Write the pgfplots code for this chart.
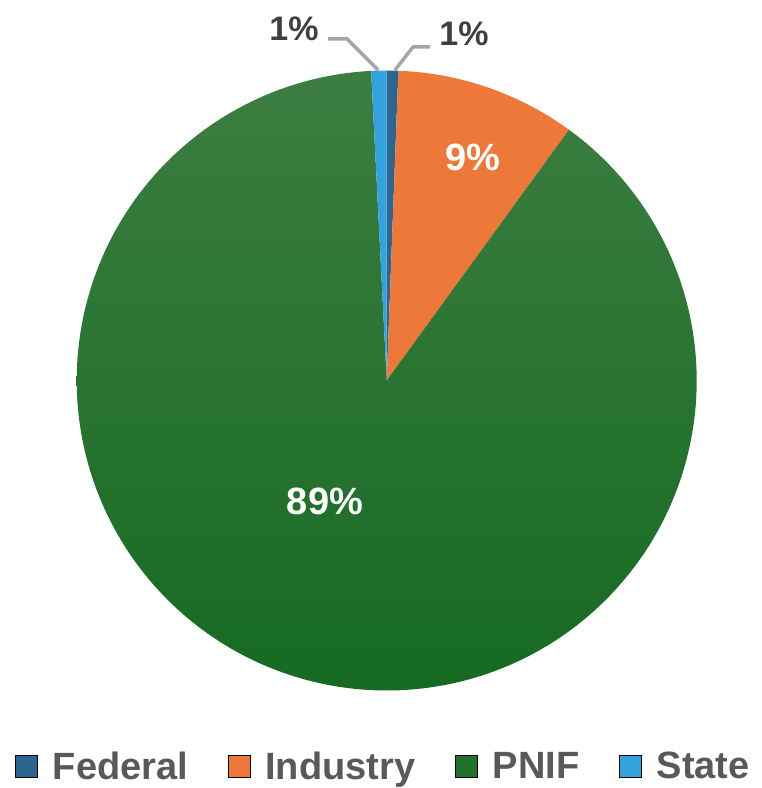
\documentclass[border=0pt]{standalone}
\usepackage{pgfplots}
\pgfplotsset{compat=1.18}
\usepackage{pgfplotstable}
\usepackage{fontspec}
\setmainfont{Liberation Sans}
\definecolor{cFederal}{HTML}{2C6690}
\definecolor{cIndustry}{HTML}{EE7839}
\definecolor{cPNIF}{HTML}{1F7229}
\definecolor{cPNIFtop}{HTML}{3C7E41}
\definecolor{cPNIFbot}{HTML}{166A22}
\definecolor{cState}{HTML}{33A2DE}
\definecolor{leader}{HTML}{A6A6A6}
\definecolor{lbl}{HTML}{404040}
\definecolor{legtxt}{HTML}{595959}

\pgfplotstableread{
name value
Federal 0.6
Industry 9.4
PNIF 89.2
State 0.8
}\piedata

\pgfplotstablegetelem{0}{value}\of\piedata \let\vA\pgfplotsretval
\pgfplotstablegetelem{1}{value}\of\piedata \let\vB\pgfplotsretval
\pgfplotstablegetelem{2}{value}\of\piedata \let\vC\pgfplotsretval
\pgfplotstablegetelem{3}{value}\of\piedata \let\vD\pgfplotsretval
\pgfmathsetmacro\aA{90}
\pgfmathsetmacro\aB{\aA-3.6*\vA}
\pgfmathsetmacro\aC{\aB-3.6*\vB}
\pgfmathsetmacro\aD{\aC-3.6*\vC}
\pgfmathsetmacro\aE{\aD-3.6*\vD}

\begin{document}
\begin{tikzpicture}
\useasboundingbox (0,0) rectangle (762pt,788pt);
\begin{axis}[
  at={(0,0)}, anchor=south west,
  scale only axis, width=762pt, height=788pt,
  xmin=-1.2474, xmax=1.2106, ymin=-1.3145, ymax=1.2274,
  hide axis, clip=false,
  legend columns=4,
  legend image code/.code={\fill[#1] (0pt,-11pt) rectangle (22pt,11pt);},
  legend style={draw=none, fill=none,
    at={(axis cs:-0.0135,-1.2435)}, anchor=center,
    font=\bfseries\fontsize{38}{40}\selectfont, text=legtxt,
    nodes={inner sep=0pt},
    /tikz/every odd column/.append style={column sep=15pt},
    /tikz/every even column/.append style={column sep=40pt}},
]
\addplot[fill=cFederal, draw=none, domain=\aB:\aA, samples=10, variable=\t, forget plot]
  ({cos(\t)},{sin(\t)}) -- (axis cs:0,0) -- cycle;
\addplot[fill=cIndustry, draw=none, domain=\aC:\aB, samples=60, variable=\t, forget plot]
  ({cos(\t)},{sin(\t)}) -- (axis cs:0,0) -- cycle;
\addplot[top color=cPNIFtop, bottom color=cPNIFbot, draw=none, domain=\aD:\aC, samples=300, variable=\t, forget plot]
  ({cos(\t)},{sin(\t)}) -- (axis cs:0,0) -- cycle;
\addplot[fill=cState, draw=none, domain=\aE:\aD, samples=10, variable=\t, forget plot]
  ({cos(\t)},{sin(\t)}) -- (axis cs:0,0) -- cycle;

\addplot[leader, line width=3.5pt, forget plot] coordinates {(-0.189,1.1016) (-0.128,1.1016) (-0.028,1.0016)};
\addplot[leader, line width=3.5pt, forget plot] coordinates {(0.1397,1.0758) (0.0848,1.0758) (0.0268,1.0016)};

\node[font=\bfseries\fontsize{34}{36}\selectfont, text=lbl] at (axis cs:-0.299,1.1332) {1\%};
\node[font=\bfseries\fontsize{34}{36}\selectfont, text=lbl] at (axis cs:0.2494,1.1187) {1\%};
\node[font=\bfseries\fontsize{38}{40}\selectfont, text=white] at (axis cs:0.2768,0.721) {9\%};
\node[font=\bfseries\fontsize{38}{40}\selectfont, text=white] at (axis cs:-0.199,-0.3887) {89\%};

\addlegendimage{fill=cFederal}
\addlegendentry{Federal}
\addlegendimage{fill=cIndustry}
\addlegendentry{Industry}
\addlegendimage{fill=cPNIF}
\addlegendentry{PNIF}
\addlegendimage{fill=cState}
\addlegendentry{State}
\end{axis}
\end{tikzpicture}
\end{document}
